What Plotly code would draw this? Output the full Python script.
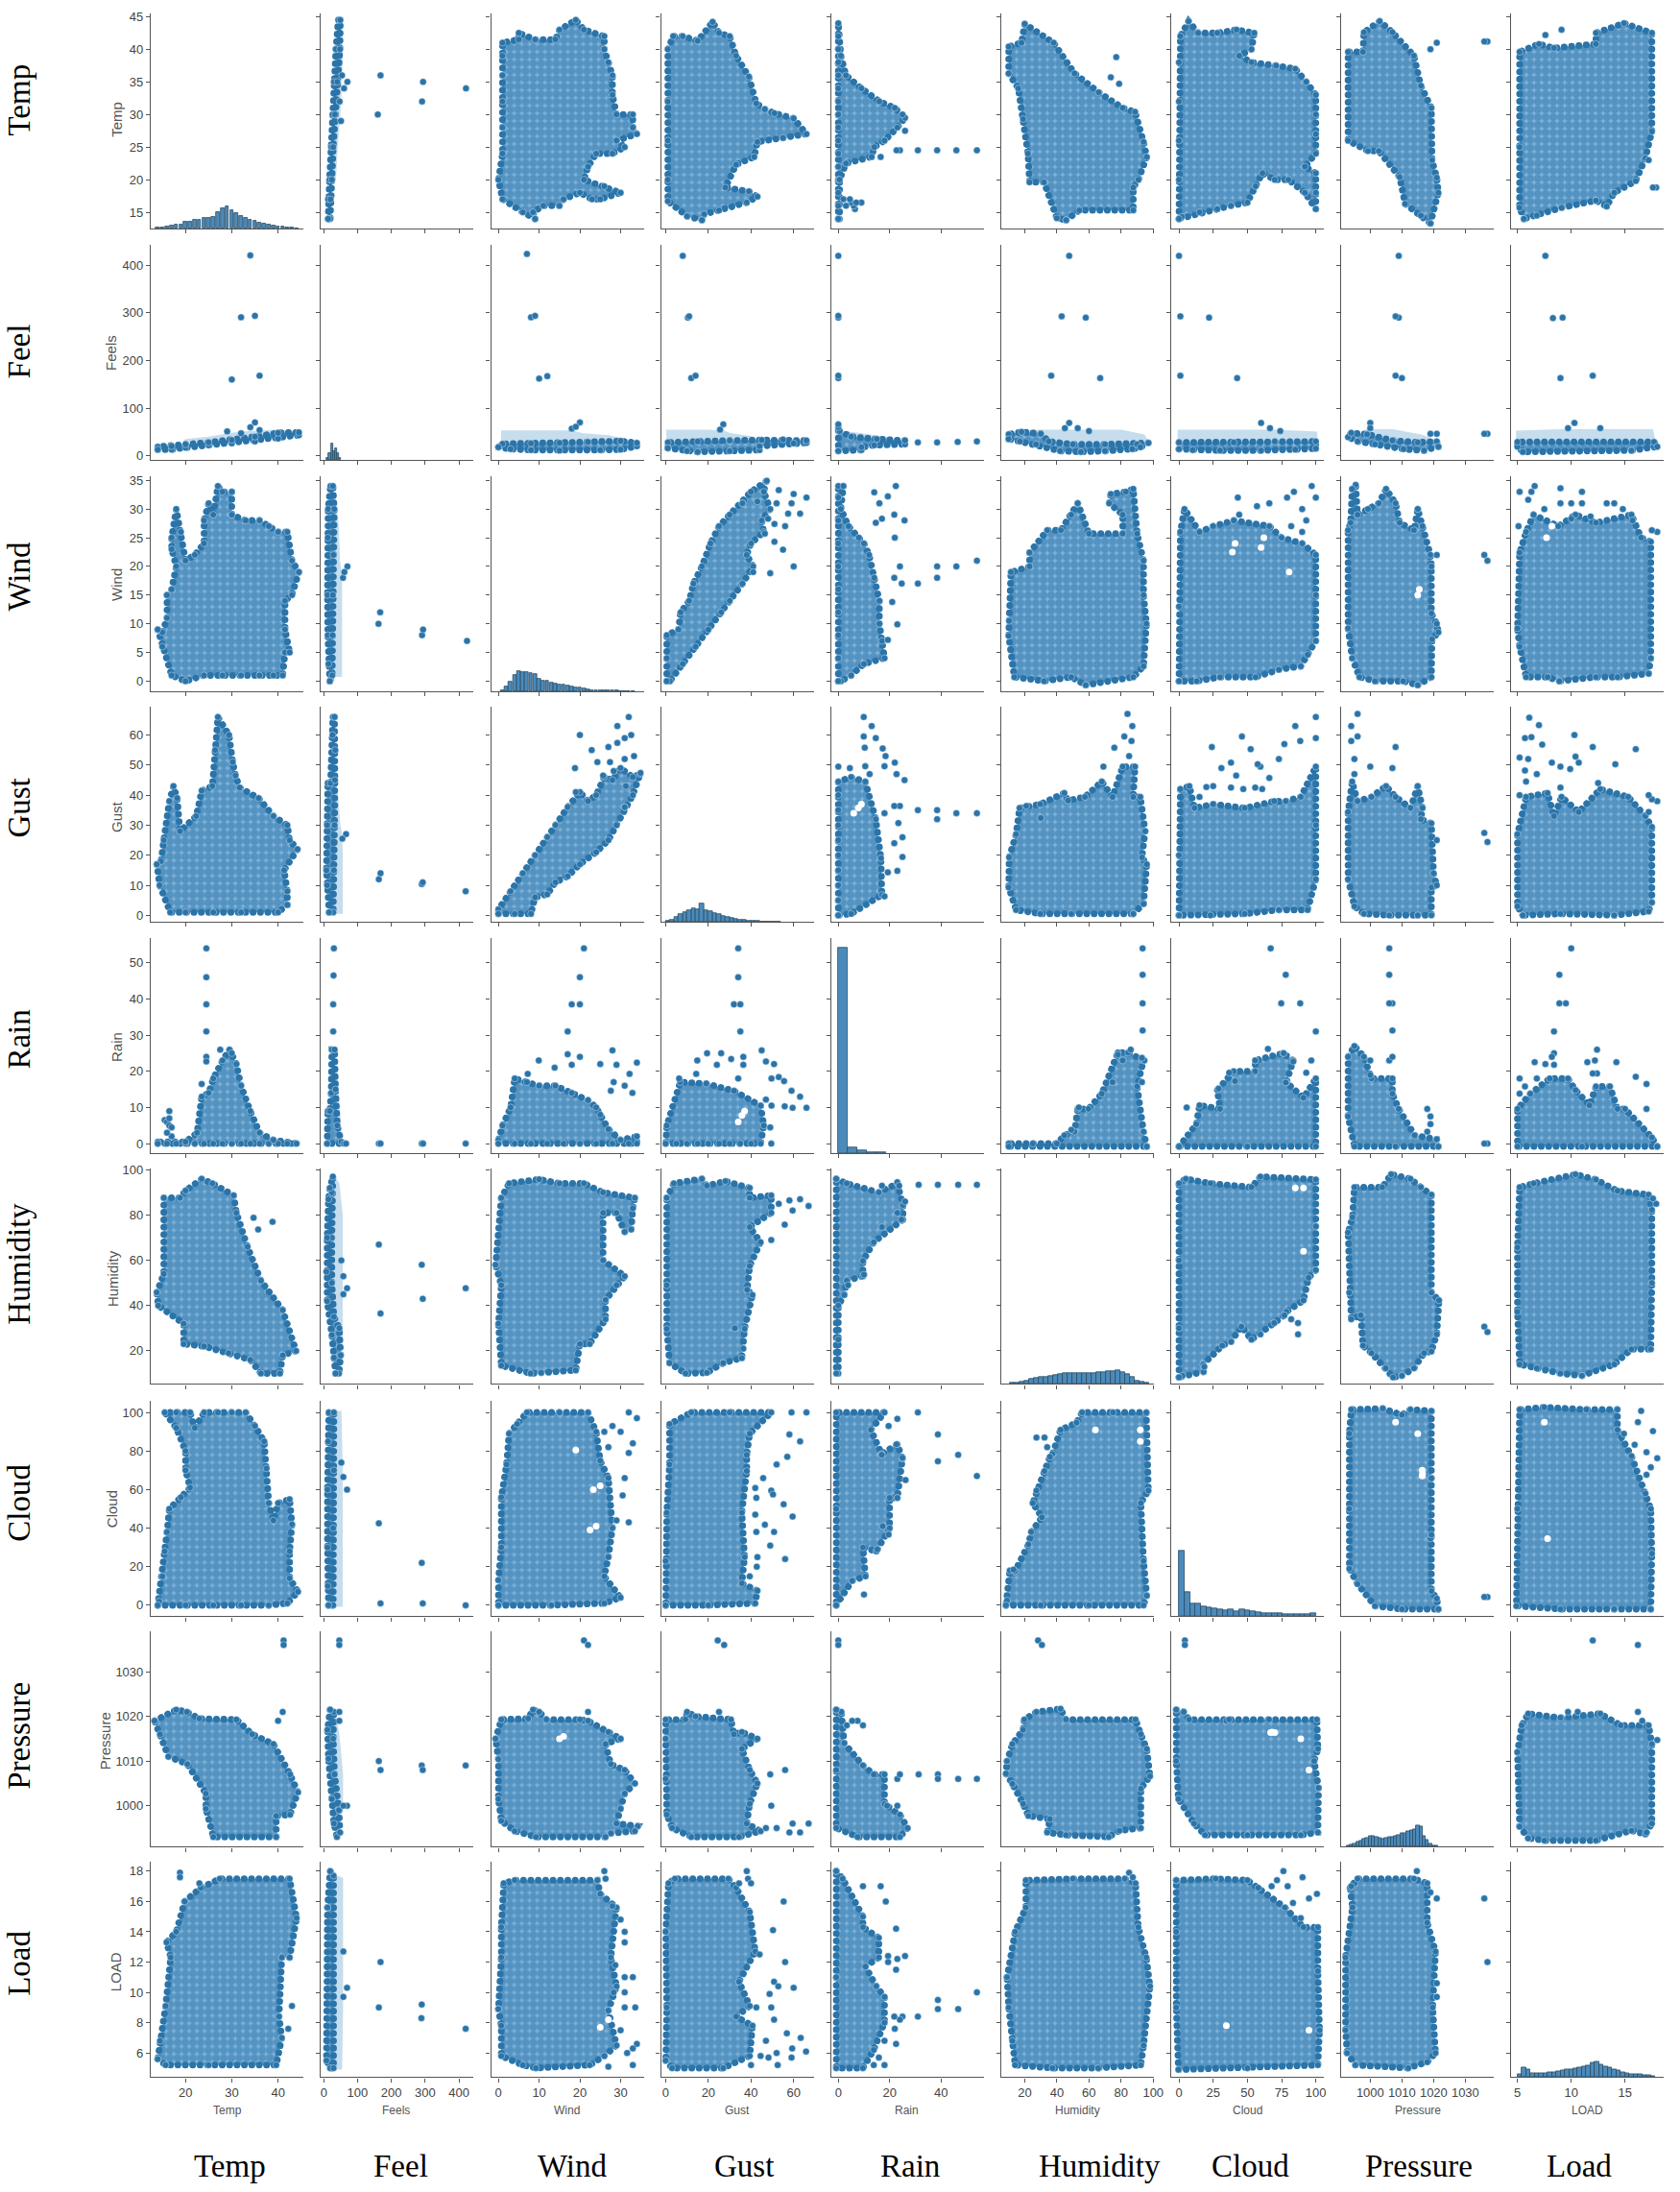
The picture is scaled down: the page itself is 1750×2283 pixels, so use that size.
"""Pair plot of weather and load variables, drawn panel by panel."""

import plotly.graph_objects as go

NAMES = ["Temp", "Feels", "Wind", "Gust", "Rain", "Humidity", "Cloud", "Pressure", "LOAD"]
ROW_LABELS = ["Temp", "Feel", "Wind", "Gust", "Rain", "Humidity", "Cloud", "Pressure", "Load"]

temp_ticks = [15, 20, 25, 30, 35, 40, 45]
temp_xticks = [20, 30, 40]
feels_ticks = [0, 100, 200, 300, 400]
wind_ticks = [0, 5, 10, 15, 20, 25, 30, 35]
wind_xticks = [0, 10, 20, 30]
gust_ticks = [0, 10, 20, 30, 40, 50, 60]
gust_xticks = [0, 20, 40, 60]
rain_ticks = [0, 10, 20, 30, 40, 50]
rain_xticks = [0, 20, 40]
humidity_ticks = [20, 40, 60, 80, 100]
cloud_ticks = [0, 20, 40, 60, 80, 100]
cloud_xticks = [0, 25, 50, 75, 100]
pressure_ticks = [1000, 1010, 1020, 1030]
load_ticks = [6, 8, 10, 12, 14, 16, 18]
load_xticks = [5, 10, 15]

# histogram bars on the diagonal: bin centres and heights (% of panel height)
temp_bins = list(range(14, 45))
temp_hist = [0.3, 0.4, 0.9, 1.2, 1.9, 2, 3, 3.3, 3.9, 4.1, 4.8, 5, 5.2, 7.5, 9.5, 10.2, 8.5, 7, 5.8, 5, 4.1, 3.4,
             2.9, 2.2, 1.7, 1.2, 1, 0.8, 0.6, 0.3, 0.2]
feels_bins = [12, 18, 24, 30, 36, 42, 48]
feels_hist = [1, 3, 7.5, 4, 5.5, 3, 1]
wind_bins = list(range(1, 34))
wind_hist = [0.6, 2.5, 4.5, 7.5, 9.5, 9, 9, 8.5, 8, 6, 5, 5, 4.2, 3.8, 3.3, 3.2, 2.6, 2.4, 1.8, 1.8, 1.2, 1, 0.7,
             0.6, 0.5, 0.5, 0.4, 0.3, 0.3, 0.2, 0.2, 0.1, 0.1]
gust_bins = list(range(1, 55, 2))
gust_hist = [0.5, 1, 2.4, 3.6, 4.6, 5.4, 6.2, 6, 8.6, 5.4, 4.8, 4, 3.4, 2.9, 2.4, 1.9, 1.5, 1.1, 0.8, 0.6, 0.4, 0.3,
             0.2, 0.2, 0.1, 0.1, 0.1]
rain_bins = [1.9, 5.6, 9.4, 13.1, 16.9]
rain_hist = [95.5, 2.7, 1.2, 0.6, 0.4]
humidity_bins = list(range(12, 97, 3))
humidity_hist = [0.3, 0.6, 1, 1.5, 2.2, 2.8, 3, 3, 3.4, 4, 4.6, 4.9, 5, 5, 5, 5, 5, 5.1, 5.3, 5.6, 5.7, 5.7, 6.2,
                 5.5, 4.5, 3, 1.6, 0.8, 0.3]
cloud_bins = list(range(2, 100, 4))
cloud_hist = [30.6, 11.3, 6, 5.8, 4.4, 4.1, 3.7, 3, 2.8, 3, 2.5, 3, 2.6, 2.5, 1.8, 1.5, 1.4, 1.5, 1.2, 0.9, 0.8, 0.8,
              0.8, 1, 1.3]
pressure_bins = list(range(993, 1022))
pressure_hist = [0.6, 1, 1.6, 2.2, 2.8, 3.5, 4.2, 5, 5, 4.5, 4, 3.8, 4, 4.3, 4.6, 5, 5.5, 6.2, 6.5, 7, 7.5, 8, 9.7,
                 9.5, 5, 3, 1.2, 0.6, 0.3]
load_bins = [5.2, 5.6, 6, 6.4, 6.8, 7.2, 7.6, 8, 8.4, 8.8, 9.2, 9.6, 10, 10.4, 10.8, 11.2, 11.6, 12, 12.4, 12.8,
             13.2, 13.6, 14, 14.4, 14.8, 15.2, 15.6, 16, 16.4, 16.8, 17.2, 17.6]
load_hist = [1.5, 4.6, 3.5, 2, 1.8, 1.9, 2, 2.1, 2.3, 2.6, 3, 3.4, 3.6, 3.9, 4.6, 4.9, 5.5, 6.6, 7.1, 6, 5, 4.4, 3.5,
             3, 2.2, 1.7, 1.5, 1.3, 1.2, 1.1, 0.8, 0.3]

# outline of each dense cloud of points, then the points that stand apart from it
temp_feels = [(14, 13), (17, 13), (20, 17), (25, 22), (30, 26), (35, 30), (40, 36), (44.5, 43), (44.5, 49), (40, 48),
              (35, 40), (30, 33), (25, 28), (20, 24), (17, 20), (14, 19)]
temp_feels_pale = [(25, 28), (30, 33), (35, 37), (40, 42), (44, 48), (40, 52), (35, 50), (30, 45), (25, 37), (20, 32)]
temp_feels_dots = [(34, 421), (32, 291), (35, 294), (30, 160), (36, 168), (35, 70), (34, 60), (36, 54), (29, 51),
                   (32, 47)]
temp_wind = [(14, 9), (15, 6), (17, 1), (20, 0), (24, 1), (28, 1), (32, 1), (36, 1), (39, 1), (41, 1), (41.5, 5),
             (42.5, 5), (41.5, 9), (41.5, 14), (43, 15), (44.5, 19), (43, 21), (42, 26), (40, 26), (38, 27), (36, 28),
             (33, 28), (30, 29), (30, 33), (28, 33), (27, 34), (26, 29), (25, 31), (24, 28), (24, 24), (22, 22),
             (20, 21), (19, 26), (18, 30), (17, 25), (17, 23), (18, 20), (17, 16), (16, 15), (16, 11), (15, 8.5)]
temp_gust = [(13.8, 17), (14.4, 10), (16.7, 1), (20, 1), (26, 1), (32, 1), (40, 1), (42, 3.5), (42, 8), (41.3, 15),
             (44.2, 22), (42.5, 25), (42, 30), (39, 33), (35.8, 39), (31.7, 42.5), (30.8, 46.5), (30.2, 51),
             (29.4, 60), (27, 66), (26.4, 55), (25.8, 43), (23.5, 41.5), (22.3, 33), (18.8, 28), (18.2, 39),
             (17.4, 43), (16.5, 38), (15.3, 25), (14.7, 18)]
temp_rain = [(14, 0), (16, 0), (18, 0), (20, 0), (22, 0), (24, 0), (26, 0), (28, 0), (30, 0), (32, 0), (34, 0),
             (36, 0), (38, 0), (40, 0), (42, 0), (44, 0), (39, 1), (36, 3), (34, 9), (32, 16), (31, 22), (29.5, 26),
             (28, 23), (26, 18), (25, 14), (23.5, 13), (22.5, 3), (20, 0.5), (14, 0.5)]
temp_rain_dots = [(15.5, 6.5), (16, 6), (16.5, 9), (16.5, 5), (17, 2), (16, 3), (17, 4.5), (16.5, 7), (24.5, 54),
                  (24.5, 46), (24.5, 38.5), (24.5, 31), (24.5, 24), (24.5, 22.7), (23.5, 16.5), (27.5, 26), (30, 25)]
temp_humidity = [(13.8, 45.8), (15.3, 54), (15.3, 87.6), (18.8, 87.6), (20, 90.8), (23.5, 96), (25.8, 94),
                 (30.4, 88.7), (31, 81), (33.4, 66), (36.3, 51), (41, 38), (43.9, 20), (41, 18), (40.4, 10),
                 (36.3, 10), (34, 16), (29.3, 19), (24, 22), (19.6, 23), (19.6, 32), (14.1, 40)]
temp_humidity_dots = [(34.7, 78.8), (35.7, 73.6), (38.8, 77)]
temp_cloud = [(14, 0), (20, 0), (26, 0), (32, 0), (38, 0), (42, 1), (44.3, 7), (42.5, 14), (42.5, 28), (43, 42),
              (42.5, 55), (40, 53), (39, 44), (38, 53), (37.5, 71), (37, 85), (35, 93), (33, 100), (30, 100),
              (27, 100), (24, 100), (22, 92), (21, 100), (18, 100), (15.5, 100), (18, 92), (20, 80), (20, 70),
              (21, 61), (19, 56), (16.5, 50), (16, 38), (15.5, 28), (15, 15), (14.3, 2)]
temp_pressure = [(13.3, 1019), (18, 1021.5), (20.3, 1021), (23, 1019.5), (31, 1019.3), (34.4, 1016), (39, 1013.8),
                 (42.6, 1007), (44.3, 1003), (42.6, 998), (39.6, 997.7), (39.6, 993), (26, 993), (24.4, 999.3),
                 (24.4, 1002.7), (20.4, 1009.3), (16.3, 1011), (14.5, 1016)]
temp_pressure_dots = [(41.2, 1037), (41.2, 1036), (41, 1021), (40, 1019)]
temp_load = [(14, 5.6), (15.7, 5.2), (25, 5.2), (39.6, 5.2), (40.8, 7), (40.2, 8.4), (40.8, 12.3), (42.5, 12.3),
             (44, 14.9), (42.5, 17.5), (27.4, 17.5), (23.3, 16.9), (19.8, 16), (18, 14), (15.9, 13.3), (16.8, 12.3),
             (15.7, 9.1), (14.5, 6.8)]
temp_load_dots = [(43, 9.1), (42.2, 7.6), (18.8, 17.9), (18.8, 17.6), (23, 17.2)]

feels_wind = [(18, 0), (14, 3), (12, 8), (11, 15), (12, 25), (13, 30), (20, 34), (27, 34), (31, 30), (29, 22),
              (27, 15), (26, 8), (25, 1)]
feels_wind_pale = [(25, 1), (50, 1), (50, 10), (50, 18), (44, 21), (40, 27), (31, 32), (25, 30)]
feels_wind_dots = [(162, 10), (167, 12), (291, 8), (294, 9), (424, 7), (70, 20), (57, 18), (61, 19)]
feels_gust = [(16, 1), (10, 10), (8, 15), (10, 30), (12, 44), (20, 44), (26, 60), (27, 66), (32, 66), (34, 55),
              (33, 45), (32, 30), (30, 15), (28, 1)]
feels_gust_pale = [(28, 1), (52, 1), (52, 20), (50, 27), (45, 30), (38, 40), (33, 44), (30, 30)]
feels_gust_dots = [(66, 27), (55, 25.5), (163, 12), (168, 14), (290, 10.4), (293, 11), (420, 8)]
feels_rain = [(10, 0), (12, 9), (18, 9), (22, 14), (24, 26), (32, 26), (35, 15), (40, 5), (52, 0.5), (60, 0)]
feels_rain_pale = [(25, 0), (50, 0), (45, 8), (40, 14), (35, 20), (25, 20)]
feels_rain_dots = [(66, 0), (163, 0), (168, 0), (290, 0), (294, 0), (420, 0), (30, 54), (29, 46.5), (28, 38.5),
                   (28, 31)]
feels_humidity = [(35, 10), (45, 10), (50, 18), (46, 30), (30, 35), (24, 50), (24, 70), (24, 90), (27, 97), (18, 92),
                  (14, 87), (10, 70), (8, 55), (10, 42), (24, 27), (30, 17)]
feels_humidity_pale = [(46, 30), (52, 21), (52, 50), (52, 80), (42, 94), (27, 97), (24, 90), (24, 50), (30, 35)]
feels_humidity_dots = [(163, 67), (290, 58), (293, 43), (168, 36.5), (420, 47.7), (69, 47.7), (58, 53), (52, 60),
                       (58, 45)]
feels_cloud = [(14, 0), (12, 10), (11, 30), (11, 60), (13, 85), (15, 100), (30, 100), (30, 70), (28, 40), (28, 0)]
feels_cloud_pale = [(28, 0), (52, 0), (52, 40), (52, 70), (48, 100), (30, 100)]
feels_cloud_dots = [(163, 42.5), (290, 22), (293, 1), (168, 1), (420, 0), (69, 60), (58, 66.5), (52, 74)]
feels_pressure = [(19, 1021.5), (11, 1017), (14, 1010.5), (24, 1001.5), (30, 996), (39, 993), (48, 994), (45, 999),
                  (32, 1007), (28, 1015), (30, 1021)]
feels_pressure_pale = [(32, 1007), (45, 999), (53, 999), (53, 1007), (42, 1016), (30, 1021), (28, 1015)]
feels_pressure_dots = [(46, 1037), (46, 1036), (46, 1021), (46, 1019), (69, 1000), (58, 1000), (163, 1010),
                       (168, 1008), (290, 1009), (293, 1008), (420, 1009)]
feels_load = [(11, 15.6), (8, 5.5), (19, 5), (29, 5), (29, 17.7), (19, 18)]
feels_load_pale = [(29, 5), (50, 5), (53, 9), (53, 17.5), (29, 17.7)]
feels_load_dots = [(163, 9), (168, 12), (290, 9.2), (289, 8.3), (420, 7.6), (69, 10.3), (58, 9.7), (58, 12.7)]

wind_gust = [(0, 0.5), (4, 0.5), (8, 0.5), (9, 6), (12, 7), (14, 11), (17, 13), (20, 17), (24, 21), (27, 25), (29, 30),
             (31, 36), (33, 40), (34.8, 47), (33, 46), (30, 49), (28, 45), (26, 46), (24, 40), (22, 38), (20, 41),
             (17, 36), (14, 30), (12, 26), (9, 20), (6, 14), (3, 8), (0, 2)]
wind_gust_dots = [(32, 66), (29.2, 63), (32.6, 60), (31, 59), (29.2, 57.4), (27, 56), (22.9, 55), (20, 60), (18.8, 49),
                  (24.3, 51), (27.4, 51), (31, 52), (33.3, 53), (34.9, 47.4), (28.3, 48), (25.7, 46.5), (31.3, 43),
                  (19, 41), (31, 36)]
wind_rain = [(0, 0), (4, 0), (8, 0), (12, 0), (16, 0), (20, 0), (24, 0), (28, 0), (32, 0), (34, 0), (34, 2), (30, 1),
             (27, 4), (25, 8), (24, 10), (22, 12), (18, 14), (14, 16), (10, 16), (7, 17), (4, 18), (3, 10), (1, 5),
             (0, 1)]
wind_rain_dots = [(21, 54), (20, 46), (18, 38.5), (20, 38.5), (17, 31), (17, 24.7), (18, 21.8), (20, 24), (9.9, 23),
                  (13.8, 21), (7.2, 19.3), (25, 22), (28, 25.8), (29, 21.8), (34, 22.4), (32.2, 19.3), (28.3, 17),
                  (32.9, 14), (27.6, 14.6), (31, 16)]
wind_humidity = [(-0.7, 58), (0.7, 87.6), (2.6, 94), (10, 95.8), (15, 94), (21, 94), (25.7, 90), (33.5, 87.6), (33, 83),
                 (32.6, 73.6), (31, 72.6), (29, 81), (25.7, 81), (25.7, 60), (31, 53), (29, 49), (26.3, 42.5),
                 (26.3, 34), (22.4, 23), (20, 23), (19, 11.4), (10.5, 10.3), (7.9, 10), (0.7, 13.5), (0, 32),
                 (0.7, 49)]
wind_cloud = [(0, 0), (13, 0), (26, 1), (30, 4), (26, 15), (27, 25), (28, 40), (27, 66), (25, 75), (24, 90), (22, 100),
              (15, 100), (7, 100), (4.6, 94), (2.6, 89), (2, 73), (0.7, 56), (0.7, 30), (0, 13)]
wind_cloud_dots = [(33, 84), (32, 79), (31, 66), (30.5, 57), (32, 43), (29, 44), (30, 90), (32, 100), (34, 97),
                   (28, 93), (26, 90), (27, 82)]
wind_cloud_gaps = [(22.5, 39), (23.3, 60), (19, 80.5), (24, 41), (25, 62)]
wind_pressure = [(-0.7, 1015), (0.7, 1019.3), (7.3, 1019.5), (8.5, 1021.5), (10, 1021), (11.8, 1019.3), (20, 1019.3),
                 (22, 1019), (27, 1016.5), (30, 1015), (26.3, 1013.8), (27.6, 1009.3), (31, 1008), (33.5, 1005),
                 (31, 1002.7), (30, 999.3), (29, 996), (34.2, 995.4), (33.5, 994.3), (27.6, 993.8), (26.3, 993),
                 (9.2, 993), (4, 994.3), (0.7, 996.6), (0, 1001.5), (0, 1010.4)]
wind_pressure_dots = [(21, 1037), (22, 1036), (22, 1021), (30, 1015)]
wind_pressure_gaps = [(15, 1015), (16, 1015.5)]
wind_load = [(0, 8.9), (0.7, 7.8), (0.7, 5.8), (6, 5.2), (9.2, 5), (22.4, 5.2), (26, 5.8), (29, 6.5), (27, 8.8),
             (29, 10.4), (27.6, 12.3), (29, 15.6), (25, 16.5), (24.3, 17.4), (4, 17.4), (1.3, 17.2), (0.7, 14.3),
             (0.7, 12.3)]
wind_load_dots = [(26, 18), (26.3, 17.5), (28, 15.7), (30, 14.8), (31, 14), (31, 13.3), (28.7, 11.8), (31, 11), (33, 11),
                  (28.3, 10), (31, 10), (33.6, 9), (31, 9), (30, 7.5), (34, 6.6), (33, 6.3), (31.6, 6), (33, 5.2),
                  (27, 5.1)]
wind_load_gaps = [(25, 7.7), (27, 8.2)]

gust_rain = [(0, 0), (5, 0), (10, 0), (15, 0), (20, 0), (25, 0), (30, 0), (35, 0), (40, 0), (44.5, 0), (46, 5), (44.5, 10.5),
             (32, 14.6), (19, 16.6), (6.8, 17), (0.5, 5)]
gust_rain_dots = [(34, 54), (34, 46), (32, 38.5), (35, 38.5), (35, 31), (36.4, 24), (36.4, 21.8), (34, 18), (14.8, 23),
                  (19.4, 25), (26, 25), (30.7, 23.4), (24, 21.8), (45, 25.8), (47, 22.7), (50.8, 22), (49.6, 18),
                  (53, 18.4), (55.5, 17.3), (59, 14.6), (63, 13), (66, 9.9), (59.5, 9.9), (55.8, 10.3), (49.6, 10.5),
                  (49, 4.5), (49.5, 0), (6.3, 18), (14.3, 19.3), (47, 12.2)]
gust_rain_gaps = [(35.7, 7.8), (37, 9), (34, 6)]
gust_humidity = [(0.5, 87.6), (3.8, 94), (17, 96), (19.3, 93), (28, 95), (39.4, 92), (39.4, 87.6), (49.5, 88.7),
                 (49.5, 81), (39.4, 74.7), (44.5, 68), (39.4, 57.5), (38.2, 47), (40.7, 44.7), (37, 29.7), (35.7, 16.8),
                 (27, 14.6), (19.3, 10.3), (9.3, 10), (1.8, 14.6), (0.5, 29.7), (0.5, 49)]
gust_humidity_dots = [(67, 84), (63, 87), (58, 86.5), (59.5, 82), (55.8, 75.8), (49.5, 69), (32.4, 30), (36.4, 21),
                       (53, 85)]
gust_cloud = [(0, 0), (20, 0), (42, 1), (43, 7.6), (35.7, 11.4), (37, 25), (35.7, 48), (38, 69.6), (38, 78), (39.4, 89),
              (49.5, 100), (30, 100), (12, 100), (1.8, 94), (1.8, 73), (0.5, 48), (0, 23)]
gust_cloud_dots = [(66, 100), (59, 100), (58, 88.6), (63, 85), (57, 77), (52, 73), (49.5, 59.5), (50.3, 57.5),
                   (55.3, 52.4), (59.5, 46), (50.8, 38), (49, 31), (56, 24), (43, 25), (42.7, 20), (39.4, 15),
                   (46.5, 41.8), (42.5, 38), (42, 47), (45.7, 66), (42, 60.8), (42.5, 55.7)]
gust_pressure = [(0, 1015), (0, 1019.3), (9.3, 1019.3), (10, 1021), (14, 1020), (30.6, 1019.3), (32, 1016), (35.7, 1016.5),
                 (43, 1015), (35.7, 1012.7), (39.4, 1008), (43, 1005), (39.4, 1000.4), (38, 996), (44.5, 994.3),
                 (34.4, 993), (12, 993), (3, 995), (0.5, 998), (0, 1006)]
gust_pressure_dots = [(24.4, 1037), (27.4, 1036), (25, 1021), (56, 1008), (49, 1007), (49.5, 1000), (67, 996),
                      (59.5, 996), (63, 994), (52, 995), (58, 994), (47, 995)]
gust_load = [(0, 5.5), (3, 5), (27, 5), (39.4, 5.8), (40.7, 7.8), (33, 8.4), (39.4, 9.1), (34.4, 10.7), (42, 12.7),
             (39.4, 15.3), (33, 16.9), (29.4, 17.5), (4.3, 17.5), (1.3, 17.2), (0, 14), (0.5, 9)]
gust_load_dots = [(38, 18), (38.6, 17.5), (34.4, 17.2), (40, 17.2), (55.3, 16), (50.3, 14.1), (56, 12), (44, 12.5),
                  (50.8, 10.7), (52.8, 10.4), (48.7, 9.9), (60, 10.3), (42.5, 9), (49.5, 9), (50.8, 8.2), (56.8, 7.3),
                  (59.3, 6.3), (63.3, 7), (65.8, 6.1), (59, 5.7), (52, 6), (52.5, 5.2), (48.2, 5.7), (40, 5.2),
                  (44.5, 5.8), (47, 6.8)]

rain_humidity = [(-0.8, 96), (3.3, 94), (15.8, 90), (23, 94), (25.2, 84.4), (25.2, 78), (13.8, 68), (9.6, 59.7),
                 (9.6, 53), (3.3, 51), (2.3, 44.7), (0, 40), (0, 25), (0, 10), (-0.8, 10)]
rain_humidity_dots = [(31.3, 93.4), (38.8, 93.4), (46.7, 93.4), (54, 93.4), (23, 94.5), (23.7, 93), (17, 93), (23, 81),
                      (26, 86), (24.6, 78), (17, 74.7), (10, 53.7), (3.8, 49)]
rain_cloud = [(-0.8, 0), (5.4, 12.7), (10.6, 15), (9.6, 30), (14.8, 28), (20, 40), (20, 55.7), (23, 55.7), (25, 76),
              (23, 83.5), (16.9, 78.5), (12.7, 91), (18, 100), (-0.8, 100), (-0.8, 50)]
rain_cloud_dots = [(10, 5.6), (15.2, 29), (19.6, 36.7), (17.3, 41), (23, 55.7), (26.2, 65), (25, 76.5), (22.7, 83.5),
                   (16.9, 78), (38.8, 88.6), (38.8, 74.7), (46.7, 78), (54, 67), (31, 100), (23, 96.7), (19.6, 93)]
rain_pressure = [(-0.8, 1021.5), (1.2, 1021), (2.3, 1014), (9.6, 1009), (13.8, 1007), (18, 1007), (18, 1000.4), (24, 998),
                 (27, 995), (24, 993), (7.5, 993), (-0.8, 995), (-0.8, 1008)]
rain_pressure_dots = [(0, 1037), (0, 1036), (9.6, 1018), (7.5, 1019), (5.4, 1019), (3.3, 1018), (23, 1006), (24, 1007),
                      (31.3, 1007), (38.8, 1007), (38.8, 1006), (46.7, 1006), (54, 1006), (19, 1000), (23, 1000)]
rain_load = [(-0.8, 18), (1.7, 17.5), (9.6, 15), (9.6, 14.3), (15.8, 13.6), (15.8, 12.3), (10.6, 11.7), (14.8, 10.4),
             (18, 9.7), (18, 8), (13.8, 6.2), (9.6, 5), (-0.8, 5), (-0.8, 11)]
rain_load_dots = [(9.6, 17), (16.5, 17), (18.5, 16), (22.5, 14.2), (19.4, 12.4), (19.4, 12), (23, 12.2), (26, 12.4),
                  (22.5, 11.5), (54, 10), (38.8, 9.5), (38.8, 8.9), (46.7, 8.9), (31, 8.4), (25, 8.4), (24, 8.2),
                  (21.8, 8.4), (22, 7.6), (18, 6.8), (22.5, 6.6), (18, 5.2), (15.8, 5.7), (13.8, 5.2)]

humidity_cloud = [(8.3, 0), (30, 0), (60, 0), (94, 0), (96, 5), (94, 23), (92.3, 53), (97, 59.5), (95.7, 100),
                  (75, 100), (55.7, 100), (52.3, 94.7), (42.3, 91), (37.3, 78.5), (35.7, 77), (32.3, 69.6), (27.3, 59.5),
                  (25, 53), (30.7, 45.6), (24, 38), (22.3, 31.6), (14, 17.7), (10.7, 18), (9, 2.5)]
humidity_cloud_dots = [(27.3, 87), (32.3, 87), (34, 82), (13, 18.5)]
humidity_cloud_gaps = [(92, 91), (64, 91), (92, 85)]
humidity_pressure = [(9, 1010), (12.3, 1013.8), (19, 1017), (19.7, 1019.3), (27.3, 1021), (42.3, 1021.7), (45.7, 1019.3),
                     (89, 1019.3), (92.3, 1016), (96, 1012.7), (98, 1006.6), (92.3, 1003.8), (92.3, 995), (79, 994.4),
                     (72.3, 993), (45.7, 993.4), (34, 994), (35.7, 997), (22.3, 997.7), (19, 1000.4), (12.3, 1004.9),
                     (8.3, 1007.2)]
humidity_pressure_dots = [(28.3, 1037), (30.7, 1036)]
humidity_load = [(9, 11), (14, 14), (20.7, 15.6), (20.7, 17.4), (50, 17.5), (82.3, 17.5), (89, 17.2), (90.7, 14.3),
                 (95.7, 12.3), (98, 10.4), (94, 6.5), (92.3, 5.2), (65.7, 5), (37.3, 5), (14, 5.2), (12.3, 6.8), (10, 9)]
humidity_load_dots = [(85, 17.9), (87.3, 17.6)]

cloud_pressure = [(-2, 1021.5), (3.5, 1021), (7.4, 1019.3), (34.6, 1019), (36.6, 1019.3), (65.8, 1019.3), (100.8, 1019.3),
                  (101.5, 1012.7), (98.8, 1010), (102, 1004), (101.5, 994), (89, 993.4), (50, 993.4), (19, 993.4),
                  (11, 996), (-0.4, 1001.5), (-2, 1010)]
cloud_pressure_dots = [(4.3, 1037), (4.3, 1036)]
cloud_pressure_gaps = [(68, 1016.5), (89, 1015), (67, 1016.4), (70, 1016.4), (95, 1008)]
cloud_load = [(-2, 17.4), (26.8, 17.5), (50, 17.4), (58, 16.9), (77.4, 15.6), (91, 14.3), (101.5, 14.3), (101.5, 11.4),
              (102.7, 7.5), (101.5, 5.2), (50, 5), (-0.4, 4.9), (-2, 9), (-2, 14)]
cloud_load_dots = [(76.3, 18), (90.3, 17.6), (100.8, 16.5), (95, 16.2), (83.3, 15.9), (79.4, 17), (67.7, 17),
                   (71.6, 17.4), (89, 14.9)]
cloud_load_gaps = [(95, 7.5), (34.6, 7.8)]
pressure_load = [(992.7, 6), (995.3, 5.2), (1012, 5), (1018, 5.4), (1020.6, 6), (1019.7, 9), (1020.6, 12.7), (1018, 14.6),
                 (1018, 17.2), (1013.8, 17.5), (996, 17.5), (993.6, 16.9), (994.4, 15.6), (992.2, 12.3), (992.2, 7.5)]
pressure_load_dots = [(1036, 16.2), (1037, 12), (1019, 16.6), (1021, 16.2), (1021, 10.6), (1021, 9.7), (1014.7, 18),
                      (994, 17)]

# axis setup, one entry per variable
RANGES = [(12.5, 45.5), (-9, 443), (-1.8, 35.7), (-2.2, 69.4), (-2.7, 56.8), (5.4, 100.5), (-5.7, 105.9), (990.8, 1039),
          (4.4, 18.6)]
YTICKS = [temp_ticks, feels_ticks, wind_ticks, gust_ticks, rain_ticks, humidity_ticks, cloud_ticks, pressure_ticks,
          load_ticks]
XTICKS = [temp_xticks, feels_ticks, wind_xticks, gust_xticks, rain_xticks, humidity_ticks, cloud_xticks, pressure_ticks,
          load_xticks]
BINS = [temp_bins, feels_bins, wind_bins, gust_bins, rain_bins, humidity_bins, cloud_bins, pressure_bins, load_bins]
HIST = [temp_hist, feels_hist, wind_hist, gust_hist, rain_hist, humidity_hist, cloud_hist, pressure_hist, load_hist]
BAR_WIDTH = [0.75, 6, 0.9, 2, 3.75, 3, 4, 1, 0.4]

# first index is the x variable, second the y variable
PAIRS = [
    (0, 1, temp_feels, temp_feels_dots, temp_feels_pale, []),
    (0, 2, temp_wind, [], None, []),
    (0, 3, temp_gust, [], None, []),
    (0, 4, temp_rain, temp_rain_dots, None, []),
    (0, 5, temp_humidity, temp_humidity_dots, None, []),
    (0, 6, temp_cloud, [], None, []),
    (0, 7, temp_pressure, temp_pressure_dots, None, []),
    (0, 8, temp_load, temp_load_dots, None, []),
    (1, 2, feels_wind, feels_wind_dots, feels_wind_pale, []),
    (1, 3, feels_gust, feels_gust_dots, feels_gust_pale, []),
    (1, 4, feels_rain, feels_rain_dots, feels_rain_pale, []),
    (1, 5, feels_humidity, feels_humidity_dots, feels_humidity_pale, []),
    (1, 6, feels_cloud, feels_cloud_dots, feels_cloud_pale, []),
    (1, 7, feels_pressure, feels_pressure_dots, feels_pressure_pale, []),
    (1, 8, feels_load, feels_load_dots, feels_load_pale, []),
    (2, 3, wind_gust, wind_gust_dots, None, []),
    (2, 4, wind_rain, wind_rain_dots, None, []),
    (2, 5, wind_humidity, [], None, []),
    (2, 6, wind_cloud, wind_cloud_dots, None, wind_cloud_gaps),
    (2, 7, wind_pressure, wind_pressure_dots, None, wind_pressure_gaps),
    (2, 8, wind_load, wind_load_dots, None, wind_load_gaps),
    (3, 4, gust_rain, gust_rain_dots, None, gust_rain_gaps),
    (3, 5, gust_humidity, gust_humidity_dots, None, []),
    (3, 6, gust_cloud, gust_cloud_dots, None, []),
    (3, 7, gust_pressure, gust_pressure_dots, None, []),
    (3, 8, gust_load, gust_load_dots, None, []),
    (4, 5, rain_humidity, rain_humidity_dots, None, []),
    (4, 6, rain_cloud, rain_cloud_dots, None, []),
    (4, 7, rain_pressure, rain_pressure_dots, None, []),
    (4, 8, rain_load, rain_load_dots, None, []),
    (5, 6, humidity_cloud, humidity_cloud_dots, None, humidity_cloud_gaps),
    (5, 7, humidity_pressure, humidity_pressure_dots, None, []),
    (5, 8, humidity_load, humidity_load_dots, None, []),
    (6, 7, cloud_pressure, cloud_pressure_dots, None, cloud_pressure_gaps),
    (6, 8, cloud_load, cloud_load_dots, None, cloud_load_gaps),
    (7, 8, pressure_load, pressure_load_dots, None, []),
]

WIDTH, HEIGHT = 1750, 2283
COL_LEFT = [158, 336, 514.5, 692.5, 871, 1049, 1227, 1405, 1583]
ROW_TOP = [8, 250, 492, 733, 975, 1216, 1459, 1700, 1941]
PANEL_W, PANEL_H = 160, 225

DOT_BLUE = "#2a74a9"
GAP_BLUE = "#7fb2d8"
PALE_BLUE = "#c6dded"
AXIS_GREY = "#555555"
SANS = "Liberation Sans, sans-serif"
SERIF = "Liberation Serif, serif"

marker_style = dict(color=DOT_BLUE, size=7, line=dict(color="rgba(235,245,252,0.7)", width=0.6))
cloud_pattern = dict(shape=".", size=8, solidity=0.78, fgcolor=DOT_BLUE, bgcolor=GAP_BLUE)

# round caps turn the dashed outline into a row of dots along the cloud's rim
ROUND_RIMS = """
document.body.style.margin = '0';
document.querySelectorAll('.scatterlayer .js-line').forEach(function (el) {
  el.style.strokeLinecap = 'round';
});
"""


def unzip(points, flip):
    xs = [p[0] for p in points]
    ys = [p[1] for p in points]
    return (ys, xs) if flip else (xs, ys)


def add_pair(fig, col, row, edge, dots, pale, gaps, flip):
    axis_id = row * 9 + col + 1
    ax = dict(xaxis=f"x{axis_id}", yaxis=f"y{axis_id}", showlegend=False, hoverinfo="skip")
    if pale:
        xs, ys = unzip(pale, flip)
        fig.add_trace(go.Scatter(x=xs, y=ys, mode="lines", fill="toself", fillcolor=PALE_BLUE,
                                 line=dict(width=3, color=PALE_BLUE), **ax))
    xs, ys = unzip(edge + edge[:1], flip)
    fig.add_trace(go.Scatter(x=xs, y=ys, mode="lines+markers", fill="toself", fillpattern=cloud_pattern,
                             line=dict(width=7, color=DOT_BLUE, dash="0.1px,7.6px"), marker=marker_style, **ax))
    if gaps:
        # empty spots inside the cloud
        xs, ys = unzip(gaps, flip)
        fig.add_trace(go.Scatter(x=xs, y=ys, mode="markers", marker=dict(color="white", size=7), **ax))
    if dots:
        xs, ys = unzip(dots, flip)
        fig.add_trace(go.Scatter(x=xs, y=ys, mode="markers", marker=marker_style, **ax))


def set_axes(fig, row, col):
    axis_id = row * 9 + col + 1
    lo, hi = RANGES[row]
    y_range = [0, 100] if row == col else [lo, hi]
    # histogram panels keep the tick marks of their row
    y_vals = [(t - lo) / (hi - lo) * 100 for t in YTICKS[row]] if row == col else YTICKS[row]
    x_left = COL_LEFT[col] / WIDTH
    y_bottom = 1 - (ROW_TOP[row] + PANEL_H) / HEIGHT
    common = dict(showgrid=False, zeroline=False, showline=True, linecolor=AXIS_GREY, linewidth=1.4,
                  ticks="outside", ticklen=4, tickcolor=AXIS_GREY, tickwidth=1.2,
                  tickfont=dict(family=SANS, size=13, color="#444444"))
    fig.update_layout(**{
        f"xaxis{axis_id}": dict(domain=[x_left, x_left + PANEL_W / WIDTH], range=list(RANGES[col]), anchor=f"y{axis_id}",
                                tickvals=XTICKS[col], tickangle=0, showticklabels=row == 8, **common),
        f"yaxis{axis_id}": dict(domain=[y_bottom, y_bottom + PANEL_H / HEIGHT], range=y_range, anchor=f"x{axis_id}",
                                tickvals=y_vals, ticktext=[str(t) for t in YTICKS[row]], showticklabels=col == 0,
                                **common),
    })


def label(fig, text, x, y, font, size, color="#000000", angle=0):
    fig.add_annotation(text=text, x=x / WIDTH, y=1 - y / HEIGHT, xref="paper", yref="paper", showarrow=False,
                       xanchor="center", yanchor="middle", textangle=angle,
                       font=dict(family=font, size=size, color=color))


fig = go.Figure()

for row in range(9):
    for col in range(9):
        set_axes(fig, row, col)

for i in range(9):
    axis_id = i * 9 + i + 1
    fig.add_trace(go.Bar(x=BINS[i], y=HIST[i], width=BAR_WIDTH[i], xaxis=f"x{axis_id}", yaxis=f"y{axis_id}",
                         marker=dict(color="#4b8bbb", line=dict(color="#2b4a60", width=0.8)),
                         showlegend=False, hoverinfo="skip"))

for a, b, edge, dots, pale, gaps in PAIRS:
    add_pair(fig, a, b, edge, dots, pale, gaps, False)
    add_pair(fig, b, a, edge, dots, pale, gaps, True)

# big row and column labels
row_label_y = [98, 361, 597, 839, 1081, 1315, 1565, 1809, 2047]
col_label_x = [241, 420, 599, 779, 953, 1152, 1310, 1486, 1654]
for text, y in zip(ROW_LABELS, row_label_y):
    label(fig, text, 20, y, SERIF, 33, angle=-90)
for text, x in zip(ROW_LABELS, col_label_x):
    label(fig, text, x, 2259, SERIF, 33)

# small axis titles
small_y_x = [122, 116, 122, 122, 122, 118, 117, 110, 122]
small_y_y = [119, 363, 605, 848, 1089, 1331, 1572, 1814, 2056]
small_x_x = [238, 415, 594, 772, 950, 1129, 1307, 1485, 1663]
for text, x, y in zip(NAMES, small_y_x, small_y_y):
    label(fig, text, x, y, SANS, 15, AXIS_GREY, angle=-90)
for text, x in zip(NAMES, small_x_x):
    label(fig, text, x, 2201, SANS, 12, AXIS_GREY)

fig.update_layout(width=WIDTH, height=HEIGHT, margin=dict(l=0, r=0, t=0, b=0), paper_bgcolor="white",
                  plot_bgcolor="white", bargap=0, showlegend=False)

fig.write_html("out.html", config={"displayModeBar": False}, post_script=ROUND_RIMS)
